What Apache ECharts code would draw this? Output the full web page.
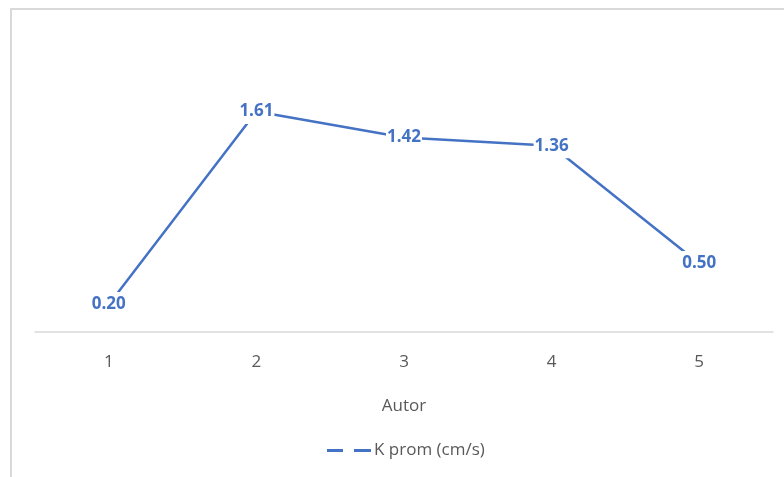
<!DOCTYPE html>
<html>
<head>
<meta charset="utf-8">
<script src="https://cdn.jsdelivr.net/npm/echarts@6/dist/echarts.min.js"></script>
<style>
  html, body { margin: 0; padding: 0; background: #fff; }
  #chart { width: 784px; height: 477px; }
</style>
</head>
<body>
<div id="chart"></div>
<script>
// Autor (categories) and average permeability K in cm/s
const autores = ['1', '2', '3', '4', '5'];
const kProm = [0.20, 1.61, 1.42, 1.36, 0.50];
const serieNombre = 'K prom (cm/s)';

const azul = '#4472C4';
const gris = '#595959';
const fuente = '"Open Sans", "Liberation Sans", sans-serif';

const chart = echarts.init(document.getElementById('chart'));
chart.setOption({
  animation: false,
  backgroundColor: '#fff',
  graphic: [{
    type: 'rect',
    shape: { x: 11, y: 9, width: 820, height: 520 },
    style: { fill: 'none', stroke: '#d9d9d9', lineWidth: 2 },
    z: -1
  }],
  grid: { left: 35, right: 11, top: 58, bottom: 145 },
  legend: {
    data: [serieNombre],
    bottom: 13,
    left: 322,
    icon: 'path://M0,0H16V3H0Z M27,0H44V3H27Z',
    itemWidth: 44,
    itemHeight: 3,
    itemGap: 10,
    textStyle: { color: gris, fontSize: 17, fontFamily: fuente, padding: [0, 0, 0, -2] }
  },
  xAxis: {
    type: 'category',
    data: autores,
    boundaryGap: true,
    name: 'Autor',
    nameLocation: 'middle',
    nameGap: 66,
    nameTextStyle: { color: gris, fontSize: 17, fontFamily: fuente },
    axisLine: { lineStyle: { color: '#d9d9d9', width: 1.5 } },
    axisTick: { show: false },
    axisLabel: { color: gris, fontSize: 17, fontFamily: fuente, margin: 22 }
  },
  yAxis: {
    type: 'value',
    min: 0,
    max: 2,
    show: false,
    splitLine: { show: false }
  },
  series: [{
    name: serieNombre,
    type: 'line',
    data: kProm,
    symbol: 'circle',
    symbolSize: 0,
    showSymbol: true,
    lineStyle: { color: azul, width: 2.5 },
    itemStyle: { color: azul },
    label: {
      show: true,
      position: 'inside',
      formatter: p => p.value.toFixed(2),
      color: azul,
      fontWeight: 'bold',
      fontSize: 17,
      fontFamily: fuente,
      backgroundColor: '#fff',
      padding: [4, 1]
    }
  }]
});
</script>
</body>
</html>
